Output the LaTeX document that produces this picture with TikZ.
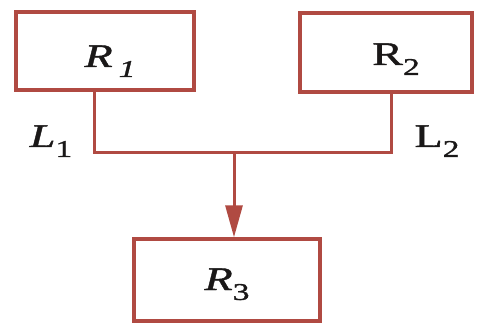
\documentclass[tikz,border=0pt]{standalone}
\usepackage{fontspec}
\setmainfont{Liberation Serif}
\newfontfamily\widefont[FakeStretch=1.4,FakeBold=1.2]{Liberation Serif}
\usetikzlibrary{arrows.meta}
\definecolor{linecol}{RGB}{176,74,66}
\definecolor{txtcol}{RGB}{26,24,24}
\newcommand\lowsub[1]{\raisebox{-0.3em}{\fontsize{24}{24}\selectfont #1}}
\begin{document}
\begin{tikzpicture}[x=1pt,y=-1pt,
  box/.style={draw=linecol, line width=3.4pt, rectangle, inner sep=0pt, text=txtcol,
    text depth=0pt, font=\widefont\fontsize{33}{33}\selectfont},
  wire/.style={draw=linecol, line width=3pt},
  lbl/.style={text=txtcol, font=\widefont\fontsize{33}{33}\selectfont, inner sep=0pt, anchor=base}]
\useasboundingbox (0,0) rectangle (481,328);
\fill[white] (0,0) rectangle (481,328);
\node[box, minimum width=178pt, minimum height=78pt, text height=32pt] (R1) at (105,51) {\hspace*{10pt}\textit{R}\hspace{6pt}\lowsub{\textit{1}}};
\node[box, minimum width=172pt, minimum height=79pt, text height=25pt] (R2) at (386,52.5) {\hspace*{20pt}R\lowsub{2}};
\node[box, minimum width=186pt, minimum height=82pt, text height=20pt] (R3) at (227,280) {\textit{R}\lowsub{3}};
\coordinate (J) at (234,153);
\draw[wire, line join=miter] ([xshift=-11pt]R1.south) |- (J) -| ([xshift=5pt]R2.south);
\draw[wire, -{Triangle[length=32pt,width=17pt]}, fill=linecol] (J) -- (J |- R3.north);
\node[lbl] (L1) at (51,147) {\textit{L}\lowsub{1}};
\node[lbl] (L2) at (437,147) {L\lowsub{2}};
\end{tikzpicture}
\end{document}
